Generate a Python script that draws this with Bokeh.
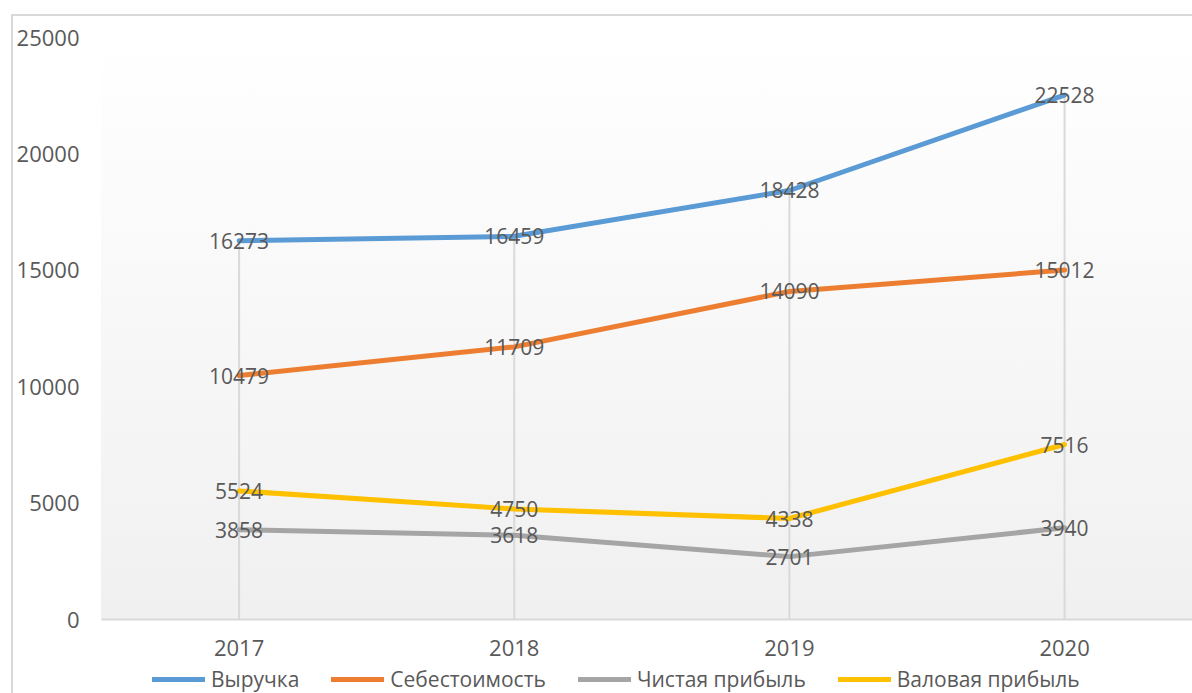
from bokeh.plotting import figure
from bokeh.layouts import column
from bokeh.models import Range1d, FixedTicker, Legend, LegendItem
from bokeh.core.properties import value
from bokeh.embed import file_html
from bokeh.resources import INLINE

years = ["2017", "2018", "2019", "2020"]
revenue = [16273, 16459, 18428, 22528]
cost = [10479, 11709, 14090, 15012]
net_profit = [3858, 3618, 2701, 3940]
gross_profit = [5524, 4750, 4338, 7516]
series_names = ["Выручка", "Себестоимость", "Чистая прибыль", "Валовая прибыль"]
series_values = [revenue, cost, net_profit, gross_profit]
colors = ["#5B9BD5", "#ED7D31", "#A5A5A5", "#FFC000"]
y_ticks = [0, 5000, 10000, 15000, 20000, 25000]

FONT = "Open Sans"
TEXT = "#595959"
GRID = "#D9D9D9"

xs = list(range(len(years)))

p = figure(width=1179, height=648, output_backend="svg", toolbar_location=None,
           x_range=Range1d(-0.5, 3.465), y_range=Range1d(0, 25000),
           min_border_left=88, min_border_top=21, min_border_right=0, min_border_bottom=45)
p.border_fill_color = None
p.background_fill_color = None
p.outline_line_color = None
p.xgrid.visible = False
p.ygrid.visible = False

p.xaxis.ticker = FixedTicker(ticks=xs)
p.xaxis.major_label_overrides = {i: y for i, y in enumerate(years)}
p.xaxis.axis_line_color = GRID
p.xaxis.axis_line_width = 2
p.xaxis.major_tick_line_color = None
p.xaxis.minor_tick_line_color = None
p.xaxis.major_label_text_font = FONT
p.xaxis.major_label_text_font_size = "22px"
p.xaxis.major_label_text_color = TEXT
p.xaxis.major_label_standoff = 14

p.yaxis.ticker = FixedTicker(ticks=y_ticks)
p.yaxis.axis_line_color = None
p.yaxis.major_tick_line_color = None
p.yaxis.minor_tick_line_color = None
p.yaxis.major_label_text_font = FONT
p.yaxis.major_label_text_font_size = "22px"
p.yaxis.major_label_text_color = TEXT
p.yaxis.major_label_standoff = 16

# drop lines from the highest point in each category down to the axis
tops = [max(v) for v in zip(*series_values)]
p.segment(x0=xs, y0=[0] * len(xs), x1=xs, y1=tops, line_color=GRID, line_width=2)

for name, vals, col in zip(series_names, series_values, colors):
    p.line(xs, vals, line_color=col, line_width=5, line_join="round", line_cap="round")

for vals in series_values:
    p.text(xs, vals, text=[str(v) for v in vals], text_align="center", text_baseline="middle",
           text_font=value(FONT), text_font_size="21px", text_color=TEXT)

# legend strip below the chart (its sample lines lie outside its own empty range)
pl = figure(width=1179, height=29, output_backend="svg", toolbar_location=None,
            x_range=Range1d(-2, -1), y_range=Range1d(-2, -1),
            x_axis_location=None, y_axis_location=None,
            min_border_left=0, min_border_right=0, min_border_top=0, min_border_bottom=0)
pl.border_fill_color = None
pl.background_fill_color = None
pl.outline_line_color = None
pl.xgrid.visible = False
pl.ygrid.visible = False

items = []
for name, vals, col in zip(series_names, series_values, colors):
    r = pl.line(xs, vals, line_color=col, line_width=5, line_cap="round")
    items.append(LegendItem(label=name, renderers=[r]))

legend = Legend(items=items, orientation="horizontal", location=(51, 0),
                glyph_width=53, glyph_height=20, label_standoff=6, spacing=32,
                padding=0, margin=0, border_line_color=None, background_fill_color=None,
                label_text_font=FONT, label_text_font_size="21px", label_text_color=TEXT)
pl.add_layout(legend, "center")

layout = column(p, pl, spacing=0)
layout.margin = (14, 0, 0, 11)
layout.styles = {
    "border-left": "2px solid #D9D9D9",
    "border-top": "2px solid #D9D9D9",
    "background": "linear-gradient(#FFFFFF, #F0F0F0) 88px 21px / 1091px 582px no-repeat, #FFFFFF",
}

open("out.html", "w").write(file_html(layout, INLINE))
